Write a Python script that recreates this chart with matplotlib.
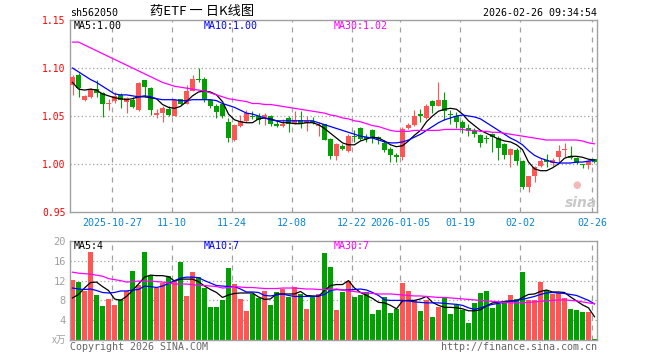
import matplotlib
matplotlib.use("Agg")
import matplotlib.pyplot as plt
import numpy as np

# daily candles, 2025-10-16 .. 2026-02-26 (88 sessions)
opens = [1.082, 1.093, 1.067, 1.070, 1.078, 1.074, 1.062, 1.066, 1.072, 1.065,
         1.067, 1.056, 1.087, 1.079, 1.051, 1.053, 1.057, 1.050, 1.068, 1.063,
         1.076, 1.088, 1.089, 1.067, 1.060, 1.062, 1.044, 1.025, 1.040, 1.045,
         1.050, 1.050, 1.049, 1.050, 1.042, 1.040, 1.048, 1.042, 1.046, 1.043,
         1.045, 1.040, 1.042, 1.026, 1.008, 1.019, 1.014, 1.029, 1.038, 1.028,
         1.035, 1.028, 1.022, 1.016, 1.009, 1.007, 1.037, 1.041, 1.052, 1.048,
         1.066, 1.060, 1.067, 1.0515, 1.050, 1.044, 1.037, 1.034, 1.030, 1.0262,
         1.031, 1.027, 1.021, 1.009, 1.015, 1.003, 0.976, 0.987, 0.998, 1.004,
         1.0015, 1.007, 1.0143, 1.008, 1.006, 0.9992, 0.999, 1.005]
highs = [1.093, 1.095, 1.072, 1.079, 1.087, 1.075, 1.068, 1.075, 1.074, 1.070,
         1.070, 1.085, 1.088, 1.080, 1.057, 1.060, 1.060, 1.068, 1.068, 1.082,
         1.093, 1.0997, 1.091, 1.068, 1.063, 1.064, 1.048, 1.042, 1.051, 1.056,
         1.055, 1.053, 1.053, 1.051, 1.046, 1.047, 1.050, 1.0555, 1.055, 1.050,
         1.049, 1.044, 1.042, 1.027, 1.022, 1.021, 1.031, 1.035, 1.039, 1.031,
         1.036, 1.029, 1.025, 1.018, 1.011, 1.039, 1.043, 1.056, 1.057, 1.062,
         1.067, 1.085, 1.075, 1.056, 1.054, 1.046, 1.042, 1.037, 1.031, 1.030,
         1.032, 1.029, 1.022, 1.017, 1.017, 1.004, 0.988, 0.998, 1.006, 1.010,
         1.006, 1.020, 1.0215, 1.019, 1.007, 1.0005, 1.0045, 1.0055]
lows = [1.072, 1.070, 1.066, 1.069, 1.070, 1.049, 1.056, 1.064, 1.058, 1.053,
        1.058, 1.055, 1.070, 1.051, 1.048, 1.044, 1.050, 1.050, 1.061, 1.062,
        1.076, 1.0857, 1.065, 1.058, 1.048, 1.048, 1.023, 1.024, 1.039, 1.044,
        1.047, 1.042, 1.041, 1.040, 1.039, 1.039, 1.033, 1.042, 1.038, 1.034,
        1.042, 1.029, 1.025, 1.005, 1.004, 1.015, 1.013, 1.023, 1.025, 1.023,
        1.022, 1.021, 1.012, 1.002, 1.002, 1.004, 1.036, 1.040, 1.044, 1.047,
        1.053, 1.060, 1.046, 1.042, 1.037, 1.032, 1.029, 1.028, 1.018, 1.022,
        1.013, 1.004, 1.005, 0.997, 0.999, 0.974, 0.971, 0.981, 0.997, 0.997,
        0.998, 1.001, 1.007, 1.005, 1.000, 0.996, 0.995, 1.001]
closes = [1.091, 1.079, 1.071, 1.078, 1.074, 1.062, 1.064, 1.071, 1.067, 1.069,
          1.059, 1.084, 1.080, 1.056, 1.053, 1.058, 1.051, 1.067, 1.063, 1.076,
          1.089, 1.0873, 1.067, 1.060, 1.054, 1.050, 1.027, 1.041, 1.045, 1.053,
          1.049, 1.046, 1.051, 1.042, 1.040, 1.042, 1.042, 1.046, 1.043, 1.045,
          1.043, 1.041, 1.025, 1.008, 1.021, 1.016, 1.029, 1.028, 1.026, 1.026,
          1.028, 1.026, 1.015, 1.009, 1.007, 1.036, 1.041, 1.050, 1.050, 1.060,
          1.060, 1.067, 1.055, 1.051, 1.044, 1.037, 1.034, 1.031, 1.022, 1.0258,
          1.028, 1.017, 1.009, 1.016, 1.003, 0.976, 0.987, 0.997, 1.003, 1.002,
          1.0045, 1.014, 1.0148, 1.006, 1.001, 0.9988, 1.0035, 1.002]
# volume in 万
volumes = [12.2, 11.7, 9.9, 17.7, 9.0, 6.8, 8.2, 7.0, 8.3, 9.9,
           14.0, 11.1, 17.7, 13.0, 10.5, 11.5, 13.0, 11.9, 15.8, 8.8,
           13.7, 12.7, 10.5, 6.7, 6.7, 8.0, 14.5, 11.3, 8.2, 5.9,
           9.3, 8.5, 10.0, 7.0, 9.7, 10.3, 8.7, 10.8, 9.3, 6.2,
           8.7, 9.2, 17.5, 14.7, 6.0, 9.7, 12.0, 8.7, 9.0, 9.7,
           5.2, 6.0, 8.7, 5.5, 6.2, 11.5, 9.8, 8.0, 5.8, 8.0,
           4.7, 6.7, 8.5, 5.2, 7.0, 6.0, 3.5, 7.5, 9.5, 9.9,
           6.5, 7.2, 7.5, 9.0, 8.2, 13.7, 8.1, 8.0, 11.7, 10.1,
           9.2, 9.5, 8.5, 6.2, 6.0, 5.6, 5.6, 0.2]

# moving averages as drawn on the chart
ma5 = [1.085, 1.078, 1.077, 1.078, 1.077, 1.073, 1.071, 1.069, 1.068, 1.067,
       1.068, 1.070, 1.070, 1.069, 1.068, 1.062, 1.059, 1.058, 1.060, 1.065,
       1.071, 1.075, 1.076, 1.075, 1.072, 1.065, 1.052, 1.046, 1.044, 1.043,
       1.043, 1.047, 1.048, 1.047, 1.045, 1.043, 1.043, 1.042, 1.042, 1.043,
       1.043, 1.041, 1.037, 1.032, 1.027, 1.022, 1.020, 1.020, 1.024, 1.026,
       1.028, 1.027, 1.024, 1.020, 1.018, 1.019, 1.024, 1.030, 1.035, 1.044,
       1.050, 1.055, 1.057, 1.058, 1.057, 1.052, 1.045, 1.040, 1.035, 1.032,
       1.029, 1.026, 1.024, 1.023, 1.020, 1.015, 1.002, 0.995, 0.993, 0.993,
       0.996, 1.000, 1.006, 1.008, 1.008, 1.007, 1.005, 1.004]
ma10 = [1.100, 1.096, 1.092, 1.088, 1.085, 1.081, 1.077, 1.073, 1.072, 1.072,
        1.071, 1.070, 1.071, 1.070, 1.068, 1.067, 1.067, 1.067, 1.066, 1.066,
        1.067, 1.067, 1.067, 1.067, 1.066, 1.063, 1.061, 1.059, 1.056, 1.053,
        1.052, 1.050, 1.048, 1.046, 1.045, 1.045, 1.045, 1.045, 1.045, 1.045,
        1.045, 1.043, 1.041, 1.039, 1.037, 1.035, 1.033, 1.031, 1.029, 1.028,
        1.027, 1.025, 1.023, 1.022, 1.022, 1.023, 1.025, 1.028, 1.031, 1.035,
        1.039, 1.043, 1.046, 1.048, 1.050, 1.051, 1.050, 1.049, 1.047, 1.043,
        1.039, 1.035, 1.031, 1.027, 1.024, 1.020, 1.014, 1.009, 1.006, 1.004,
        1.002, 1.001, 1.001, 1.001, 1.002, 1.002, 1.003, 1.004]
ma30 = [1.127, 1.127, 1.124, 1.121, 1.118, 1.115, 1.112, 1.109, 1.106, 1.103,
        1.100, 1.097, 1.094, 1.091, 1.088, 1.085, 1.083, 1.081, 1.080, 1.079,
        1.078, 1.077, 1.076, 1.074, 1.072, 1.070, 1.068, 1.067, 1.066, 1.065,
        1.063, 1.063, 1.062, 1.062, 1.061, 1.060, 1.059, 1.058, 1.057, 1.056,
        1.055, 1.054, 1.053, 1.051, 1.050, 1.048, 1.047, 1.045, 1.044, 1.042,
        1.040, 1.039, 1.037, 1.035, 1.034, 1.034, 1.034, 1.035, 1.035, 1.035,
        1.035, 1.035, 1.036, 1.036, 1.036, 1.036, 1.035, 1.035, 1.034, 1.034,
        1.033, 1.033, 1.032, 1.031, 1.030, 1.029, 1.028, 1.027, 1.026, 1.025,
        1.025, 1.025, 1.025, 1.025, 1.025, 1.024, 1.022, 1.021]
vma5 = [8.5, 9.2, 10.5, 11.6, 11.7, 10.8, 10.0, 8.3, 8.0, 8.8,
        10.0, 11.3, 12.7, 13.1, 13.0, 13.0, 12.8, 11.9, 12.3, 12.3,
        12.3, 11.8, 10.9, 10.2, 9.6, 8.6, 9.1, 9.4, 9.5, 9.5,
        9.5, 8.7, 8.2, 8.3, 9.3, 9.3, 9.3, 9.3, 9.8, 9.0,
        8.9, 8.8, 10.0, 11.0, 11.2, 11.2, 12.0, 10.5, 9.6, 9.0,
        8.4, 7.6, 7.5, 7.0, 6.3, 7.9, 8.0, 8.0, 8.3, 8.8,
        7.6, 7.0, 6.6, 6.6, 6.5, 6.3, 5.9, 5.9, 6.1, 6.9,
        7.5, 7.6, 7.8, 7.9, 7.9, 8.6, 9.2, 9.3, 9.8, 10.1,
        9.7, 9.7, 9.6, 8.7, 7.9, 7.1, 6.5, 4.7]
vma10 = [10.5, 10.3, 10.2, 10.3, 10.0, 9.6, 9.5, 9.6, 9.9, 9.9,
         10.1, 10.2, 10.9, 10.8, 10.6, 10.9, 11.4, 12.0, 12.5, 12.7,
         12.7, 12.6, 12.0, 11.5, 11.0, 10.9, 10.8, 10.8, 10.3, 9.7,
         9.7, 9.6, 9.0, 8.9, 9.1, 9.3, 9.0, 8.8, 8.8, 8.8,
         8.8, 8.9, 9.2, 10.0, 10.2, 10.1, 10.1, 10.2, 10.3, 10.1,
         9.6, 9.0, 8.1, 8.0, 8.0, 8.0, 7.9, 7.7, 7.6, 7.5,
         7.5, 7.5, 7.4, 7.3, 7.2, 7.0, 6.5, 6.2, 6.5, 6.9,
         7.2, 7.4, 7.6, 7.8, 8.0, 8.2, 8.5, 8.8, 9.2, 9.5,
         9.6, 9.5, 9.4, 9.2, 9.0, 8.5, 8.0, 7.3]
vma30 = [13.7, 13.5, 13.4, 13.3, 13.1, 12.9, 12.4, 12.2, 12.0, 11.7,
         11.8, 11.9, 11.9, 11.9, 11.8, 11.7, 11.5, 11.3, 11.3, 11.3,
         11.2, 11.0, 11.0, 10.9, 10.8, 10.5, 10.6, 10.8, 10.7, 10.6,
         10.6, 10.5, 10.4, 10.4, 10.4, 10.5, 10.5, 10.5, 10.4, 10.3,
         10.3, 10.2, 10.2, 10.2, 10.3, 10.1, 9.9, 9.8, 9.6, 9.5,
         9.4, 9.3, 9.3, 9.3, 9.2, 9.1, 9.0, 8.9, 8.9, 8.8,
         8.7, 8.6, 8.6, 8.5, 8.4, 8.3, 8.2, 8.1, 8.0, 7.9,
         7.8, 7.7, 7.6, 7.5, 7.5, 7.5, 7.6, 7.7, 7.8, 7.9,
         8.0, 8.1, 8.1, 8.0, 7.9, 7.7, 7.5, 7.3]

tick_idx = [7, 17, 27, 37, 47, 55, 65, 75, 87]
tick_labels = ['2025-10-27', '11-10', '11-24', '12-08', '12-22',
               '2026-01-05', '01-19', '02-02', '02-26']
price_ticks = [0.95, 1.00, 1.05, 1.10, 1.15]
price_labels = ['0.95', '1.00', '1.05', '1.10', '1.15']
vol_ticks = [0, 4, 8, 12, 16, 20]
vol_labels = ['', '4', '8', '12', '16', '20']

RED = '#ff5555'
GREEN = '#00a000'
GRAY = '#a0a0a0'
MONO = 'DejaVu Sans Mono'
CJK = ['Noto Sans CJK SC', 'DejaVu Sans']

W, H = 660, 360


def px(x, y):
    return x / W, 1 - y / H


n = len(closes)
x = np.arange(n)
o = np.array(opens)
c = np.array(closes)
up = c >= o
colors = [RED if u else GREEN for u in up]
bw = 5 / 6
xlim = (-bw / 2, n - 1 + bw / 2)
grid_x = [i - bw / 2 for i in tick_idx]

fig = plt.figure(figsize=(W / 100, H / 100), dpi=100)
ax1 = fig.add_axes([70 / W, 148 / H, 527 / W, 192 / H])
ax2 = fig.add_axes([70 / W, 20 / H, 527 / W, 99 / H])

for ax in (ax1, ax2):
    for s in ax.spines.values():
        s.set_color(GRAY)
        s.set_linewidth(1)
    ax.set_xlim(*xlim)
    ax.tick_params(length=0)
    for gx in grid_x:
        ax.axvline(gx, color=GRAY, lw=0.9, ls=(0, (4, 4)), zorder=0)

# price panel
for yv in [1.00, 1.05, 1.10]:
    ax1.axhline(yv, color=GRAY, lw=0.9, ls=(0, (1, 2)), zorder=0)
ax1.vlines(x, lows, highs, colors=colors, lw=0.8, zorder=2)
body_lo = np.minimum(o, c)
body_h = np.maximum(np.abs(c - o), 0.0009)
ax1.bar(x, body_h, bw, bottom=body_lo, color=colors, linewidth=0, zorder=3)
ax1.plot(x, ma5, color='black', lw=0.9, zorder=4)
ax1.plot(x, ma10, color='#0000ff', lw=0.9, zorder=4)
ax1.plot(x, ma30, color='#ff00ff', lw=0.9, zorder=4)
ax1.set_ylim(0.95, 1.15)
ax1.set_yticks(price_ticks)
ax1.set_yticklabels(price_labels, color='#ff0000', family=MONO, fontsize=7)
ax1.tick_params(axis='y', pad=3)
ax1.set_xticks(grid_x)
ax1.set_xticklabels(tick_labels, color='#0a84d0', family=MONO, fontsize=7.2)
ax1.tick_params(axis='x', pad=4)

# volume panel
for yv in [4, 8, 12, 16]:
    ax2.axhline(yv, color=GRAY, lw=0.9, ls=(0, (1, 2)), zorder=0)
ax2.bar(x, volumes, bw, color=colors, linewidth=0, zorder=2)
ax2.plot(x, vma5, color='black', lw=0.9, zorder=3)
ax2.plot(x, vma10, color='#0000ff', lw=0.9, zorder=3)
ax2.plot(x, vma30, color='#ff00ff', lw=0.9, zorder=3)
ax2.set_ylim(0, 20)
ax2.set_yticks(vol_ticks)
ax2.set_yticklabels(vol_labels, color=GRAY, family=MONO, fontsize=7.5)
ax2.tick_params(axis='y', pad=3)
ax2.set_xticks(grid_x)
ax2.set_xticklabels([])

# header and footer texts
fig.text(*px(70, 13), 'sh562050', family=MONO, fontsize=7.2, va='center')
fig.text(*px(202, 12), '药ETF 一 日K线图', family=CJK, fontsize=9.5,
         ha='center', va='center')
fig.text(*px(597, 13), '2026-02-26 09:34:54', family=MONO, fontsize=7.2,
         ha='right', va='center')

fig.text(*px(74, 26), 'MA5:1.00', family=MONO, fontsize=7.2, va='center')
fig.text(*px(204, 26), 'MA10:1.00', family=MONO, fontsize=7.2, va='center', color='#0000ff')
fig.text(*px(334, 26), 'MA30:1.02', family=MONO, fontsize=7.2, va='center', color='#ff00ff')
fig.text(*px(74, 246), 'MA5:4', family=MONO, fontsize=7.2, va='center')
fig.text(*px(204, 246), 'MA10:7', family=MONO, fontsize=7.2, va='center', color='#0000ff')
fig.text(*px(334, 246), 'MA30:7', family=MONO, fontsize=7.2, va='center', color='#ff00ff')

fig.text(*px(66, 340), 'x万', family=CJK, fontsize=7, color=GRAY,
         ha='right', va='center')
fig.text(*px(70, 347), 'Copyright 2026 SINA.COM', family=MONO, fontsize=7.2,
         color='#666666', va='center')
fig.text(*px(597, 347), 'http://finance.sina.com.cn', family=MONO, fontsize=7.2,
         color='#666666', ha='right', va='center')

# sina watermark
fig.text(*px(577, 185), '\u25cf', fontsize=7, color='#f4b8b8', ha='center', va='center')
fig.text(*px(581, 203), 'sina', fontsize=10, fontweight='bold', style='italic',
         color='#c8c8c8', ha='center', va='center')

fig.savefig('out.png', dpi=100)
